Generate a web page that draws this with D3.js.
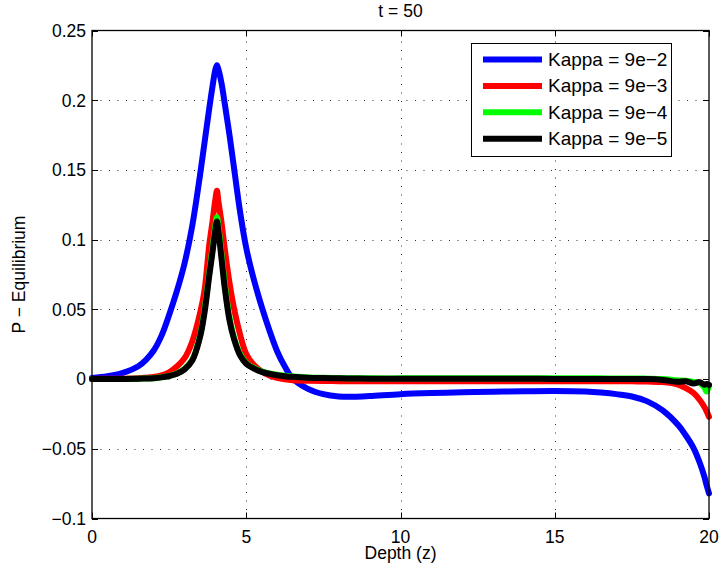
<!DOCTYPE html>
<html>
<head>
<meta charset="utf-8">
<script src="https://cdn.jsdelivr.net/npm/d3@7"></script>
<style>
  body { margin: 0; background: #fff; }
  text { font-family: "Liberation Sans", Arial, sans-serif; fill: #000; }
</style>
</head>
<body>
<svg id="chart" width="723" height="573"></svg>
<script>
// depth grid shared by all series
var depth = [0, 0.5, 1, 1.5, 1.75, 2, 2.25, 2.5, 2.75, 3, 3.25, 3.5, 3.65, 3.8, 3.9, 4, 4.05, 4.1, 4.2, 4.3, 4.45, 4.6, 4.8, 5, 5.25, 5.5, 5.75, 6, 6.25, 6.5, 7, 7.5, 8, 8.5, 9, 10, 11, 12, 13, 14, 15, 16, 16.5, 17, 17.5, 18, 18.5, 19, 19.25, 19.5, 19.7, 19.85, 19.92, 20];

var kappa2 = [0.0008, 0.0020, 0.0045, 0.0092, 0.0138, 0.0205, 0.031, 0.046, 0.063, 0.083, 0.110, 0.146, 0.170, 0.194, 0.209, 0.222, 0.225, 0.222, 0.212, 0.198, 0.176, 0.152, 0.120, 0.094, 0.071, 0.052, 0.035, 0.020, 0.009, 0.0005, -0.007, -0.0108, -0.0125, -0.0127, -0.0122, -0.0108, -0.0100, -0.0095, -0.0091, -0.0088, -0.0086, -0.0090, -0.0097, -0.0108, -0.0125, -0.0160, -0.0225, -0.0330, -0.0405, -0.0495, -0.0600, -0.0700, -0.0760, -0.0820];

var kappa3 = [0.0001, 0.0002, 0.0003, 0.0006, 0.0010, 0.0015, 0.0026, 0.0048, 0.0090, 0.0150, 0.027, 0.047, 0.064, 0.096, 0.112, 0.129, 0.135, 0.127, 0.112, 0.094, 0.070, 0.051, 0.032, 0.018, 0.010, 0.0055, 0.0025, 0.0008, -0.0002, -0.0008, -0.0012, -0.0014, -0.0015, -0.0015, -0.0015, -0.0015, -0.0015, -0.0015, -0.0015, -0.0015, -0.0015, -0.0015, -0.0015, -0.0015, -0.0016, -0.0018, -0.0022, -0.0040, -0.0065, -0.0100, -0.0150, -0.0200, -0.0230, -0.0270];

var kappa4 = [0, 0.0001, 0.0001, 0.0002, 0.0004, 0.0006, 0.0013, 0.0023, 0.0040, 0.0073, 0.0138, 0.031, 0.050, 0.076, 0.093, 0.110, 0.116, 0.109, 0.089, 0.069, 0.045, 0.030, 0.018, 0.0115, 0.0080, 0.0056, 0.0041, 0.0031, 0.0024, 0.0019, 0.0012, 0.0009, 0.0007, 0.0006, 0.0005, 0.0005, 0.0005, 0.0005, 0.0005, 0.0005, 0.0005, 0.0005, 0.0005, 0.0004, 0.0004, 0.0003, 0.0000, -0.0010, -0.0012, -0.0020, -0.0030, -0.0060, -0.0090, -0.0050];

var kappa5 = [0, 0.0001, 0.0001, 0.0002, 0.0004, 0.0006, 0.0012, 0.0022, 0.0038, 0.0070, 0.0133, 0.030, 0.048, 0.074, 0.090, 0.107, 0.113, 0.106, 0.086, 0.066, 0.043, 0.029, 0.017, 0.011, 0.0075, 0.0052, 0.0038, 0.0028, 0.0021, 0.0016, 0.0010, 0.0007, 0.0005, 0.0004, 0.0003, 0.0003, 0.0002, 0.0002, 0.0002, 0.0002, 0.0001, 0.0001, 0.0001, 0.0001, 0.0001, 0.0000, -0.0006, -0.0020, -0.0015, -0.0032, -0.0022, -0.0040, -0.0035, -0.0042];

var seriesNames = ['Kappa = 9e\u22122', 'Kappa = 9e\u22123', 'Kappa = 9e\u22124', 'Kappa = 9e\u22125'];
var seriesValues = [kappa2, kappa3, kappa4, kappa5];
var seriesColors = ['#0000ff', '#ff0000', '#00ff00', '#000000'];

var xTicks = [0, 5, 10, 15, 20];
var yTicks = [-0.1, -0.05, 0, 0.05, 0.1, 0.15, 0.2, 0.25];

var padL = 92, padR = 709, padT = 30.5, padB = 518.5,
    tickLen = 6,
    fontSize = 17.5;

var svg = d3.select('#chart');

var x = d3.scaleLinear().domain([0, 20]).range([padL, padR]);
var y = d3.scaleLinear().domain([-0.1, 0.25]).range([padB, padT]);

function fmt(d) {
  var v = Math.round(d * 1000) / 1000;
  return (v < 0 ? '\u2212' : '') + Math.abs(v);
}

// dotted grid
var grid = svg.append('g')
    .attr('stroke', '#333')
    .attr('stroke-width', 1)
    .attr('stroke-dasharray', '1,7.5');

grid.selectAll('.gx')
    .data(xTicks.slice(1, -1))
  .enter().append('line')
    .attr('x1', function(d) { return Math.round(x(d)) + 0.5; })
    .attr('x2', function(d) { return Math.round(x(d)) + 0.5; })
    .attr('y1', padB)
    .attr('y2', padT);

grid.selectAll('.gy')
    .data(yTicks.slice(1, -1))
  .enter().append('line')
    .attr('y1', function(d) { return Math.round(y(d)) + 0.5; })
    .attr('y2', function(d) { return Math.round(y(d)) + 0.5; })
    .attr('x1', padL)
    .attr('x2', padR);

// curves
var line = d3.line()
    .x(function(d) { return x(d[0]); })
    .y(function(d) { return y(d[1]); })
    .curve(d3.curveCatmullRom.alpha(0.5));

svg.append('g').selectAll('path')
    .data(seriesValues)
  .enter().append('path')
    .attr('d', function(vals) { return line(depth.map(function(z, i) { return [z, vals[i]]; })); })
    .attr('fill', 'none')
    .attr('stroke', function(d, i) { return seriesColors[i]; })
    .attr('stroke-width', 6)
    .attr('stroke-linejoin', 'round')
    .attr('stroke-linecap', 'round');

// axes box
svg.append('rect')
    .attr('x', padL)
    .attr('y', padT)
    .attr('width', padR - padL)
    .attr('height', padB - padT)
    .attr('fill', 'none')
    .attr('stroke', '#000')
    .attr('stroke-width', 1.3);

// inward ticks on all four sides
var ticks = svg.append('g').attr('stroke', '#000').attr('stroke-width', 1);

xTicks.forEach(function(d) {
  var px = Math.round(x(d)) + 0.5;
  ticks.append('line').attr('x1', px).attr('x2', px).attr('y1', padB).attr('y2', padB - tickLen);
  ticks.append('line').attr('x1', px).attr('x2', px).attr('y1', padT).attr('y2', padT + tickLen);
});
yTicks.forEach(function(d) {
  var py = Math.round(y(d)) + 0.5;
  ticks.append('line').attr('y1', py).attr('y2', py).attr('x1', padL).attr('x2', padL + tickLen);
  ticks.append('line').attr('y1', py).attr('y2', py).attr('x1', padR).attr('x2', padR - tickLen);
});

// tick labels
svg.append('g').selectAll('text')
    .data(xTicks)
  .enter().append('text')
    .attr('x', function(d) { return x(d); })
    .attr('y', 542.5)
    .attr('text-anchor', 'middle')
    .style('font-size', fontSize + 'px')
    .text(fmt);

svg.append('g').selectAll('text')
    .data(yTicks)
  .enter().append('text')
    .attr('x', 86)
    .attr('y', function(d) { return y(d) + 6.3; })
    .attr('text-anchor', 'end')
    .style('font-size', fontSize + 'px')
    .text(fmt);

// titles
svg.append('text')
    .attr('x', (padL + padR) / 2)
    .attr('y', 17)
    .attr('text-anchor', 'middle')
    .style('font-size', fontSize + 'px')
    .text('t = 50');

svg.append('text')
    .attr('x', (padL + padR) / 2)
    .attr('y', 559)
    .attr('text-anchor', 'middle')
    .style('font-size', fontSize + 'px')
    .text('Depth (z)');

svg.append('text')
    .attr('transform', 'translate(25,' + ((padT + padB) / 2) + ') rotate(-90)')
    .attr('text-anchor', 'middle')
    .style('font-size', fontSize + 'px')
    .text('P \u2212 Equilibrium');

// legend
var legend = svg.append('g').attr('transform', 'translate(471,43)');

legend.append('rect')
    .attr('x', 0.5)
    .attr('y', 0.5)
    .attr('width', 200)
    .attr('height', 113)
    .attr('fill', '#fff')
    .attr('stroke', '#000')
    .attr('stroke-width', 1);

var items = legend.selectAll('.item')
    .data(seriesNames)
  .enter().append('g')
    .attr('transform', function(d, i) { return 'translate(0,' + (16.5 + i * 26.4) + ')'; });

items.append('line')
    .attr('x1', 12)
    .attr('x2', 71)
    .attr('stroke', function(d, i) { return seriesColors[i]; })
    .attr('stroke-width', 6);

items.append('text')
    .attr('x', 77)
    .attr('y', 6.5)
    .style('font-size', '19px')
    .text(function(d) { return d; });
</script>
</body>
</html>
